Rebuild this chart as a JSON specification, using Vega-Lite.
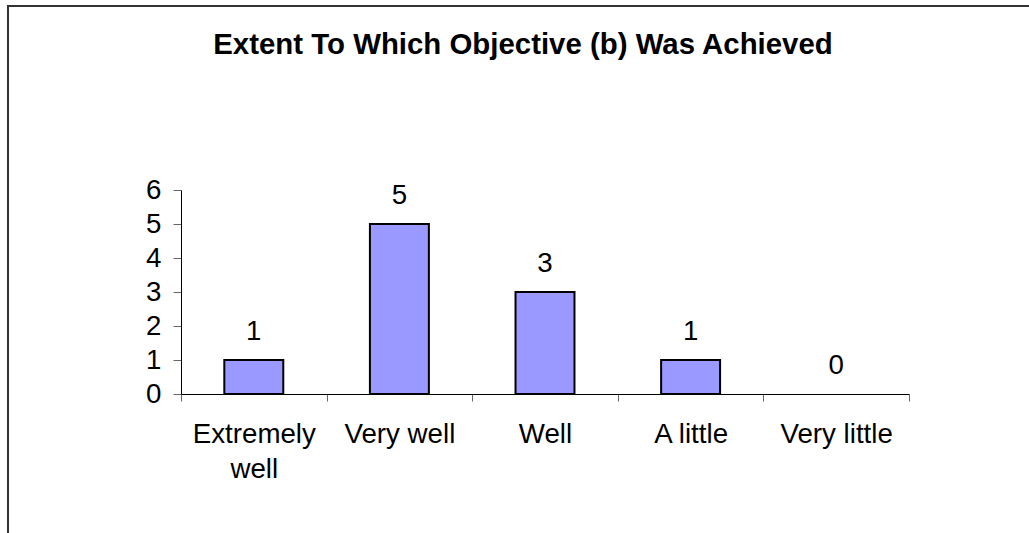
{
  "$schema": "https://vega.github.io/schema/vega-lite/v6.json",
  "autosize": {"type": "none"},
  "padding": {"left": 8, "top": 6, "right": 0, "bottom": 0},
  "width": 1030,
  "height": 540,
  "background": "white",
  "config": {
    "view": {"stroke": "#333333", "strokeWidth": 2},
    "font": "Liberation Sans"
  },
  "title": {
    "text": "Extent To Which Objective (b) Was Achieved",
    "font": "Liberation Sans",
    "fontSize": 29.4,
    "fontWeight": "bold",
    "color": "#000000",
    "anchor": "middle",
    "frame": "group",
    "baseline": "alphabetic",
    "offset": -77
  },
  "data": {
    "values": [
      {"category": "Extremely well", "count": 1},
      {"category": "Very well", "count": 5},
      {"category": "Well", "count": 3},
      {"category": "A little", "count": 1},
      {"category": "Very little", "count": 0}
    ]
  },
  "encoding": {
    "x": {
      "field": "category",
      "type": "nominal",
      "sort": null,
      "scale": {"range": [173, 901], "paddingInner": 0, "paddingOuter": 0},
      "axis": {
        "title": null,
        "orient": "bottom",
        "offset": -152,
        "tickBand": "extent",
        "labelAngle": 0,
        "labelFont": "Liberation Sans",
        "labelFontSize": 27.7,
        "labelColor": "#000000",
        "labelPadding": 19,
        "labelLineHeight": 35,
        "labelExpr": "datum.label == 'Extremely well' ? ['Extremely', 'well'] : datum.label",
        "tickSize": 7,
        "tickColor": "#666666",
        "domainColor": "#000000",
        "domainWidth": 1,
        "grid": false
      }
    },
    "y": {
      "field": "count",
      "type": "quantitative",
      "scale": {"domain": [0, 6], "range": [388, 184], "nice": false, "zero": true},
      "axis": {
        "title": null,
        "orient": "left",
        "offset": -173,
        "values": [0, 1, 2, 3, 4, 5, 6],
        "labelFont": "Liberation Sans",
        "labelFontSize": 27.7,
        "labelColor": "#000000",
        "labelPadding": 12,
        "tickSize": 8,
        "tickColor": "#666666",
        "domainColor": "#000000",
        "domainWidth": 1,
        "grid": false
      }
    }
  },
  "layer": [
    {
      "transform": [{"filter": "datum.count > 0"}],
      "mark": {"type": "bar", "width": {"band": 0.405}, "fill": "#9999FF", "stroke": "#000000", "strokeWidth": 2}
    },
    {
      "mark": {"type": "text", "baseline": "alphabetic", "dy": -20, "font": "Liberation Sans", "fontSize": 27.7, "color": "#000000"},
      "encoding": {"text": {"field": "count", "type": "quantitative"}}
    }
  ]
}
